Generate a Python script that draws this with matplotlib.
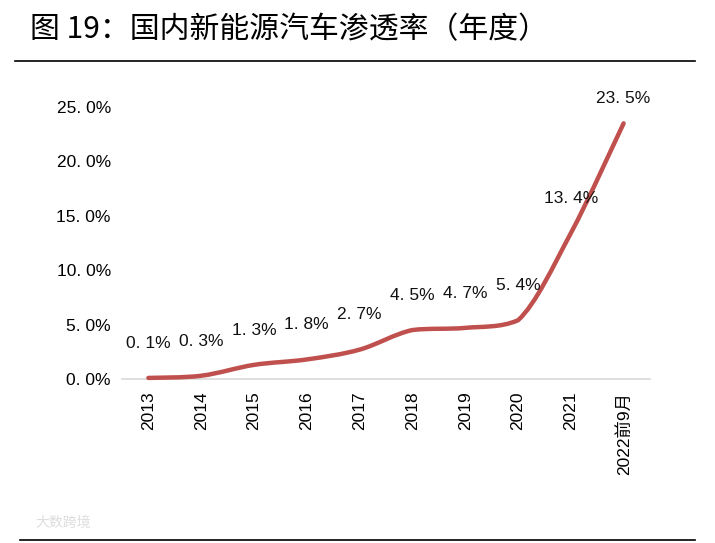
import matplotlib
matplotlib.use("Agg")
import matplotlib.pyplot as plt
from matplotlib.path import Path
from matplotlib.patches import PathPatch
import numpy as np

plt.rcParams['font.family'] = ['Liberation Sans', 'Noto Sans CJK SC', 'DejaVu Sans']

years = ['2013', '2014', '2015', '2016', '2017', '2018', '2019', '2020', '2021', '2022前9月']
rate = [0.1, 0.3, 1.3, 1.8, 2.7, 4.5, 4.7, 5.4, 13.4, 23.5]
labels = ['0. 1%', '0. 3%', '1. 3%', '1. 8%', '2. 7%', '4. 5%', '4. 7%', '5. 4%', '13. 4%', '23. 5%']
yticks = [0, 5, 10, 15, 20, 25]
ytick_labels = ['0. 0%', '5. 0%', '10. 0%', '15. 0%', '20. 0%', '25. 0%']

fig = plt.figure(figsize=(7.15, 5.43), dpi=100)
ax = fig.add_axes([0.1706, 0.302, 0.7385, 0.5009])

# smoothed line (like excel), bezier through the data points
x = np.arange(len(rate))
y = np.array(rate)
verts = [(x[0], y[0])]
codes = [Path.MOVETO]
for i in range(len(x) - 1):
    p0 = (x[max(i - 1, 0)], y[max(i - 1, 0)])
    p1 = (x[i], y[i])
    p2 = (x[i + 1], y[i + 1])
    p3 = (x[min(i + 2, len(x) - 1)], y[min(i + 2, len(x) - 1)])
    lo, hi = min(p1[1], p2[1]), max(p1[1], p2[1])
    c1y = min(max(p1[1] + (p2[1] - p0[1]) / 6, lo), hi)
    c2y = min(max(p2[1] - (p3[1] - p1[1]) / 6, lo), hi)
    c1 = (p1[0] + (p2[0] - p0[0]) / 6, c1y)
    c2 = (p2[0] - (p3[0] - p1[0]) / 6, c2y)
    verts += [c1, c2, p2]
    codes += [Path.CURVE4] * 3
ax.add_patch(PathPatch(Path(verts, codes), fill=False, edgecolor='#C0504D',
                       lw=3.2, capstyle='round', joinstyle='round', clip_on=False, zorder=3))

for i, v in enumerate(rate):
    off = 25 if i < len(rate) - 1 else 18
    ax.annotate(labels[i], (i, v), xytext=(0, off), textcoords='offset points',
                ha='center', va='center', fontsize=12.5, color='#111111',
                family=['Liberation Sans'], zorder=4)

ax.set_xlim(-0.5, 9.5)
ax.set_ylim(0, 25)
ax.set_xticks(x)
ax.set_xticklabels(years, rotation=90, fontsize=12.5, va='top')
ax.set_yticks(yticks)
ax.set_yticklabels(ytick_labels, fontsize=12.5, family=['Liberation Sans'])
ax.tick_params(length=0, pad=8)
ax.tick_params(axis='x', pad=9)
for s in ['top', 'right', 'left']:
    ax.spines[s].set_visible(False)
ax.spines['bottom'].set_color('#D9D9D9')
ax.spines['bottom'].set_linewidth(1.2)

fig.text(0.042, 0.945, '图 19：国内新能源汽车渗透率（年度）', fontsize=21.5,
         family=['Noto Sans CJK SC'], va='center', ha='left')
fig.add_artist(plt.Line2D([0.021, 0.972], [0.887, 0.887], color='black', lw=1.2))
fig.add_artist(plt.Line2D([0.028, 0.972], [0.006, 0.006], color='black', lw=1.2))
fig.text(0.05, 0.03, '大数跨境', fontsize=10, color='#DDDDDD', family=['Noto Sans CJK SC'])

fig.savefig('out.png', dpi=100)
